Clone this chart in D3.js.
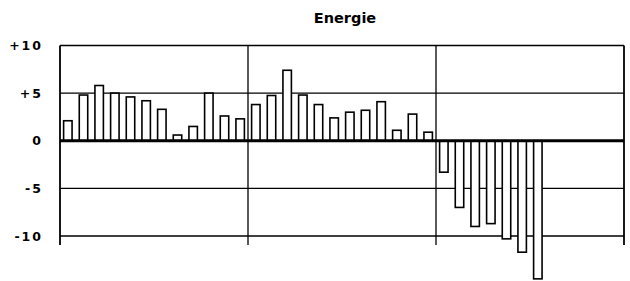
<!DOCTYPE html>
<html><head><meta charset="utf-8">
<script src="https://cdn.jsdelivr.net/npm/d3@7"></script>
<style>body{margin:0;background:#fff}svg{display:block}</style>
</head><body>
<script>
const title = "Energie";
const groupA = [2.1, 4.8, 5.8, 5.0, 4.6, 4.2, 3.3, 0.6, 1.5, 5.0, 2.6, 2.3];
const groupB = [3.8, 4.75, 7.4, 4.8, 3.8, 2.4, 3.0, 3.2, 4.1, 1.1, 2.8, 0.9];
const groupC = [-3.3, -7.0, -9.0, -8.7, -10.3, -11.7, -14.5];
const slotsPerGroup = 12;
const yTicks = [10, 5, 0, -5, -10];
const yTickLabels = ["+10", "+5", "0", "-5", "-10"];

(function () {
const W = 630, H = 281;
const mLeft = 60, mRight = 624, mTop = 45.5, mBottom = 236;
const svg = d3.select("body").append("svg").attr("width", W).attr("height", H);

const groups = [groupA, groupB, groupC];
const data = [];
groups.forEach((g, gi) => g.forEach((v, i) => data.push({slot: gi * slotsPerGroup + i, v})));
const slots = d3.range(groups.length * slotsPerGroup);

const x = d3.scaleBand().domain(slots).range([mLeft, mRight]).paddingInner(0.46).paddingOuter(0.23);
const y = d3.scaleLinear().domain([-10, 10]).range([mBottom, mTop]);
const step = (mRight - mLeft) / groups.length;

svg.append("g").selectAll("line").data(yTicks.filter(t => t !== 0)).join("line")
  .attr("x1", mLeft).attr("x2", mRight).attr("y1", d => y(d)).attr("y2", d => y(d))
  .attr("stroke", "#000").attr("stroke-width", d => (d === 10 || d === -10) ? 1.6 : 1.2);

svg.append("g").selectAll("line").data(d3.range(groups.length + 1)).join("line")
  .attr("x1", d => mLeft + d * step).attr("x2", d => mLeft + d * step)
  .attr("y1", mTop).attr("y2", mBottom + 9)
  .attr("stroke", "#000").attr("stroke-width", d => (d === 0 || d === groups.length) ? 1.8 : 1.3);

svg.append("g").selectAll("rect").data(data).join("rect")
  .attr("x", d => x(d.slot))
  .attr("width", x.bandwidth())
  .attr("y", d => Math.min(y(d.v), y(0)))
  .attr("height", d => Math.abs(y(d.v) - y(0)))
  .attr("fill", "#fff").attr("stroke", "#000").attr("stroke-width", 1.6);

svg.append("line").attr("x1", mLeft).attr("x2", mRight).attr("y1", y(0)).attr("y2", y(0))
  .attr("stroke", "#000").attr("stroke-width", 2.8);

svg.append("g").selectAll("text").data(yTicks).join("text")
  .attr("x", 43).attr("y", d => y(d)).attr("dy", "0.36em")
  .attr("text-anchor", "end")
  .attr("font-family", "DejaVu Sans, sans-serif").attr("font-weight", "bold")
  .attr("font-size", 12.5).attr("letter-spacing", "2px")
  .text((d, i) => yTickLabels[i]);

svg.append("text").attr("x", 345).attr("y", 23).attr("text-anchor", "middle")
  .attr("font-family", "DejaVu Sans, sans-serif").attr("font-weight", "bold")
  .attr("font-size", 14.5).text(title);
})();
</script>
</body></html>
